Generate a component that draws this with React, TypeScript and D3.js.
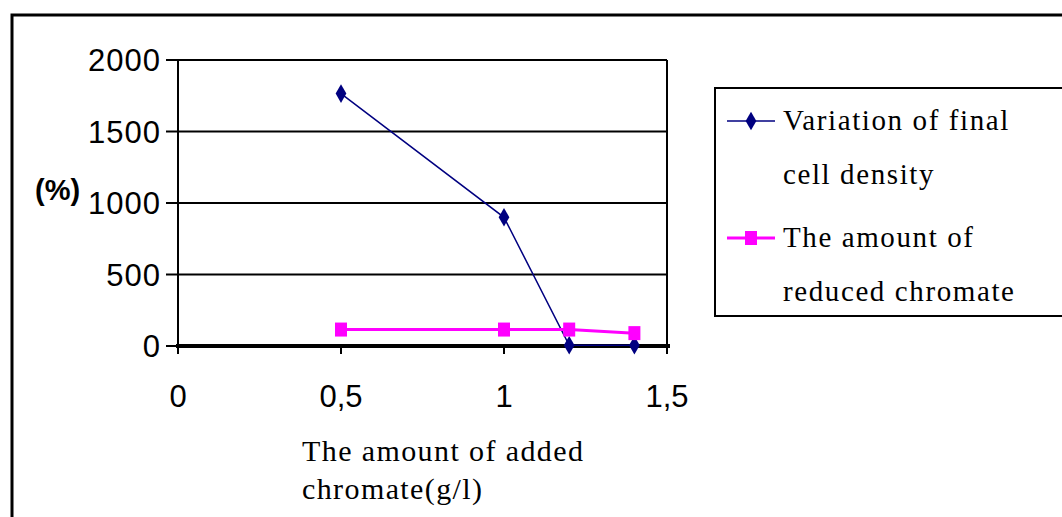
import React from "react";
import * as d3 from "d3";

const xValues = [0.5, 1, 1.2, 1.4];
const cellDensity = [1765, 900, 5, 5];
const reducedChromate = [115, 115, 115, 90];
const yTicks = [0, 500, 1000, 1500, 2000];
const xTicks = [0, 0.5, 1, 1.5];
const xTickLabels = ["0", "0,5", "1", "1,5"];
const seriesNames = [
  ["Variation of final", "cell density"],
  ["The amount of", "reduced chromate"],
];

export default function App() {
  const W = 1062, H = 517;
  const x = d3.scaleLinear().domain([0, 1.5]).range([178, 667]);
  const y = d3.scaleLinear().domain([0, 2000]).range([346, 60]);
  const line = d3.line<number>().x((_, i) => x(xValues[i])).y((d) => y(d));
  const sans = "'Liberation Sans', Arial, sans-serif";
  const serif = "'Liberation Serif', 'Times New Roman', serif";
  const diamond = d3.symbol().type(d3.symbolDiamond).size(100)() as string;
  return (
    <svg width={W} height={H} style={{ position: "absolute", left: 0, top: 0, background: "#fff" }}>
      <rect x={0} y={0} width={W} height={H} fill="#fff" />
      {/* outer border */}
      <rect x={12} y={15} width={W + 20} height={H + 20} fill="none" stroke="#000" strokeWidth={3} />
      {/* gridlines */}
      {yTicks.map((t) => (
        <g key={t}>
          {t > 0 && <line x1={178} x2={667} y1={y(t)} y2={y(t)} stroke="#000" strokeWidth={2} />}
          <line x1={166} x2={178} y1={y(t)} y2={y(t)} stroke="#000" strokeWidth={2} />
          <text x={161} y={y(t)} dy="0.36em" textAnchor="end" fontFamily={sans} fontSize={31} letterSpacing={1} fill="#000">
            {t}
          </text>
        </g>
      ))}
      {/* plot right edge */}
      <line x1={667} x2={667} y1={60} y2={346} stroke="#000" strokeWidth={2} />
      {/* y axis */}
      <line x1={178} x2={178} y1={59} y2={348} stroke="#000" strokeWidth={2} />
      {/* x axis */}
      <line x1={176} x2={670} y1={346} y2={346} stroke="#000" strokeWidth={4} />
      {xTicks.map((t, i) => (
        <g key={t}>
          <line x1={x(t)} x2={x(t)} y1={346} y2={354} stroke="#000" strokeWidth={2} />
          <text x={x(t)} y={396} dy="0.36em" textAnchor="middle" fontFamily={sans} fontSize={31} fill="#000">
            {xTickLabels[i]}
          </text>
        </g>
      ))}
      <text x={35} y={190} dy="0.36em" fontFamily={sans} fontSize={29} fontWeight="bold" fill="#000">(%)</text>
      <text fontFamily={serif} fontSize={30} letterSpacing={1.4} fill="#000">
        <tspan x={302} y={461}>The amount of added</tspan>
        <tspan x={302} y={499}>chromate(g/l)</tspan>
      </text>
      {/* series */}
      <path d={line(cellDensity) as string} fill="none" stroke="#000080" strokeWidth={1.5} />
      {cellDensity.map((v, i) => (
        <path key={i} d={diamond} transform={`translate(${x(xValues[i])},${y(v)})`} fill="#000080" />
      ))}
      <path d={line(reducedChromate) as string} fill="none" stroke="#ff00ff" strokeWidth={3} />
      {reducedChromate.map((v, i) => (
        <rect key={i} x={x(xValues[i]) - 6} y={y(v) - 7} width={12} height={14} fill="#ff00ff" />
      ))}
      {/* legend */}
      <rect x={715} y={88} width={360} height={228} fill="#fff" stroke="#000" strokeWidth={2} />
      <line x1={727} x2={775} y1={121} y2={121} stroke="#000080" strokeWidth={1.5} />
      <path d={diamond} transform="translate(751,121)" fill="#000080" />
      <line x1={727} x2={775} y1={238} y2={238} stroke="#ff00ff" strokeWidth={3} />
      <rect x={745} y={231} width={12} height={14} fill="#ff00ff" />
      {seriesNames.map((lines, si) => (
        <text key={si} fontFamily={serif} fontSize={29} letterSpacing={1.6} fill="#000">
          <tspan x={783} y={130 + si * 117}>{lines[0]}</tspan>
          <tspan x={783} y={184 + si * 117}>{lines[1]}</tspan>
        </text>
      ))}
    </svg>
  );
}
